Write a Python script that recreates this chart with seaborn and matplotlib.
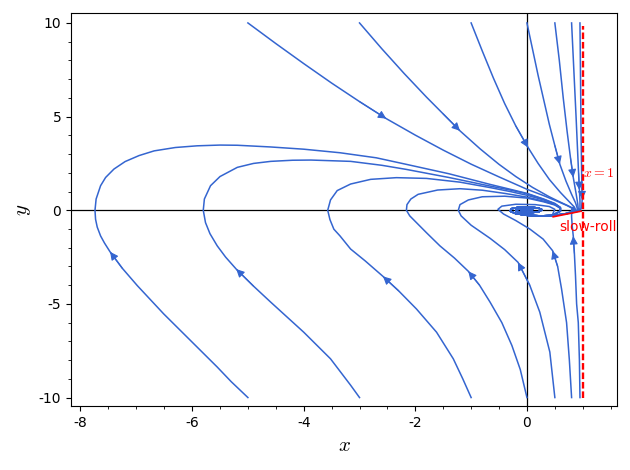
import matplotlib
matplotlib.use("Agg")
import matplotlib.pyplot as plt
import seaborn as sns
import pandas as pd

# trajectories (x, y), in flow order
top_m5 = [(-5.0, 10.0), (-4.5, 8.9), (-4.0, 7.83), (-3.5, 6.79), (-3.0, 5.8), (-2.52, 4.89),
          (-2.0, 4.01), (-1.5, 3.21), (-1.0, 2.46), (-0.5, 1.78), (0.0, 1.12), (0.3, 0.78),
          (0.55, 0.47), (0.72, 0.25), (0.82, 0.09), (0.84, -0.04), (0.75, -0.15), (0.6, -0.23)]
top_m3 = [(-3.0, 10.0), (-2.6, 8.62), (-2.2, 7.3), (-1.8, 6.04), (-1.5, 5.14), (-1.2, 4.24),
          (-0.84, 3.28), (-0.5, 2.45), (-0.2, 1.8), (0.1, 1.22), (0.4, 0.72), (0.6, 0.43), (0.75, 0.22),
          (0.85, 0.07), (0.86, -0.06), (0.72, -0.17), (0.56, -0.24)]
top_m1 = [(-1.0, 10.0), (-0.8, 8.5), (-0.6, 7.05), (-0.4, 5.7), (-0.2, 4.5), (0.02, 3.35), (0.2, 2.5),
          (0.4, 1.65), (0.6, 0.95), (0.75, 0.48), (0.85, 0.17), (0.88, -0.04), (0.78, -0.14),
          (0.62, -0.22)]
top_0 = [(0.0, 10.0), (0.1, 8.6), (0.2, 7.2), (0.3, 5.9), (0.4, 4.6), (0.5, 3.45), (0.59, 2.45),
         (0.7, 1.55), (0.8, 0.85), (0.87, 0.4), (0.9, 0.12), (0.9, -0.05), (0.78, -0.14), (0.62, -0.22)]
top_05 = [(0.5, 10.0), (0.58, 8.0), (0.65, 6.0), (0.72, 4.2), (0.78, 2.8), (0.83, 1.75), (0.88, 0.9),
          (0.91, 0.35), (0.92, 0.05), (0.88, -0.08), (0.75, -0.16), (0.6, -0.23)]
top_08 = [(0.8, 10.0), (0.84, 7.5), (0.88, 5.0), (0.91, 3.0), (0.925, 2.0), (0.94, 1.08), (0.95, 0.5),
          (0.95, 0.1), (0.92, -0.05), (0.78, -0.14), (0.62, -0.22)]
top_095 = [(0.95, 10.0), (0.96, 7.0), (0.97, 4.0), (0.98, 2.0), (0.985, 1.2), (0.99, 0.58), (0.98, 0.15),
           (0.95, -0.03), (0.8, -0.13), (0.62, -0.22)]

bot_m5 = [(-5.0, -10.0), (-5.3, -9.15), (-5.55, -8.37), (-6.03, -6.95), (-6.51, -5.53), (-6.98, -4.03),
          (-7.25, -3.1), (-7.47, -2.22), (-7.57, -1.75), (-7.64, -1.37), (-7.7, -0.9), (-7.73, -0.48),
          (-7.74, 0.0), (-7.72, 0.6), (-7.64, 1.31), (-7.55, 1.75), (-7.4, 2.2), (-7.2, 2.6),
          (-6.95, 2.92), (-6.68, 3.17), (-6.3, 3.35), (-5.91, 3.44), (-5.5, 3.48), (-5.19, 3.47),
          (-4.6, 3.38), (-4.0, 3.26), (-3.35, 3.07), (-2.7, 2.8), (-2.16, 2.45), (-1.4, 1.95),
          (-0.66, 1.38), (-0.3, 1.12), (0.0, 0.9), (0.3, 0.6), (0.5, 0.36), (0.6, 0.15),
          (0.6, -0.05), (0.5, -0.2)]
bot_m3 = [(-3.0, -10.0), (-3.16, -9.34), (-3.52, -7.93), (-4.0, -6.51), (-4.59, -4.91), (-4.9, -4.05),
          (-5.21, -3.14), (-5.4, -2.5), (-5.55, -1.9), (-5.68, -1.25), (-5.76, -0.66), (-5.8, 0.0),
          (-5.78, 0.6), (-5.67, 1.31), (-5.5, 1.8), (-5.19, 2.29), (-4.9, 2.5), (-4.59, 2.61),
          (-4.2, 2.67), (-3.87, 2.68), (-3.16, 2.61), (-2.6, 2.4), (-2.16, 2.18), (-1.4, 1.75),
          (-0.66, 1.29), (-0.3, 1.08), (0.0, 0.88), (0.3, 0.58), (0.5, 0.35), (0.6, 0.14),
          (0.6, -0.05), (0.5, -0.2)]
bot_m1 = [(-1.0, -10.0), (-1.15, -9.0), (-1.32, -7.93), (-1.62, -6.51), (-1.98, -5.27), (-2.3, -4.3),
          (-2.58, -3.53), (-2.9, -2.7), (-3.16, -2.07), (-3.35, -1.37), (-3.46, -1.01), (-3.53, -0.5),
          (-3.57, 0.0), (-3.52, 0.55), (-3.4, 1.05), (-3.16, 1.4), (-2.8, 1.65), (-2.34, 1.74),
          (-1.8, 1.7), (-1.2, 1.5), (-0.66, 1.21), (-0.3, 1.0), (0.0, 0.8), (0.3, 0.55), (0.5, 0.33),
          (0.6, 0.13), (0.6, -0.05), (0.5, -0.2)]
bot_0 = [(0.0, -10.0), (-0.12, -8.5), (-0.27, -7.22), (-0.45, -6.0), (-0.66, -4.91), (-0.85, -4.0),
         (-1.05, -3.26), (-1.3, -2.55), (-1.56, -1.9), (-1.8, -1.2), (-2.0, -0.6), (-2.1, -0.3),
         (-2.16, 0.0), (-2.15, 0.3), (-2.08, 0.6), (-1.95, 0.85), (-1.6, 1.08), (-1.2, 1.15),
         (-0.8, 1.07), (-0.4, 0.9), (0.0, 0.7), (0.3, 0.48), (0.5, 0.3), (0.6, 0.12), (0.6, -0.05),
         (0.5, -0.2)]
bot_05 = [(0.5, -10.0), (0.41, -7.57), (0.23, -5.44), (0.05, -4.0), (-0.16, -2.78), (-0.4, -2.1),
          (-0.66, -1.5), (-1.0, -0.8), (-1.18, -0.3), (-1.23, 0.0), (-1.2, 0.3), (-1.05, 0.55),
          (-0.8, 0.72), (-0.4, 0.75), (0.0, 0.65), (0.3, 0.45), (0.5, 0.28), (0.6, 0.1), (0.58, -0.08),
          (0.48, -0.22)]
bot_08 = [(0.8, -10.0), (0.76, -8.0), (0.71, -6.0), (0.62, -4.2), (0.55, -3.0), (0.46, -2.16),
          (0.29, -1.54), (0.05, -1.0), (-0.2, -0.55), (-0.42, -0.2), (-0.52, 0.05), (-0.45, 0.22),
          (-0.2, 0.32), (0.15, 0.3), (0.4, 0.2), (0.5, 0.05), (0.47, -0.15)]
bot_095 = [(0.95, -10.0), (0.94, -8.0), (0.92, -6.0), (0.89, -5.0), (0.87, -3.5), (0.85, -2.3),
           (0.83, -1.38), (0.81, -0.8), (0.8, -0.35), (0.8, 0.0), (0.82, 0.15), (0.84, 0.12),
           (0.8, -0.05), (0.7, -0.18), (0.55, -0.25)]

# spiral into the focus, shared by every trajectory
tail = [(0.45, -0.28), (0.25, -0.3), (0.0, -0.27), (-0.2, -0.18), (-0.3, -0.05), (-0.28, 0.08),
        (-0.15, 0.16), (0.05, 0.17), (0.2, 0.12), (0.27, 0.03), (0.22, -0.07), (0.08, -0.13),
        (-0.08, -0.12), (-0.2, -0.05), (-0.2, 0.04), (-0.1, 0.09), (0.03, 0.08), (0.1, 0.03),
        (0.07, -0.04), (-0.03, -0.06), (-0.11, -0.02), (-0.08, 0.03), (-0.03, 0.02)]

curves = {"top_m5": top_m5, "top_m3": top_m3, "top_m1": top_m1, "top_0": top_0, "top_05": top_05,
          "top_08": top_08, "top_095": top_095, "bot_m5": bot_m5, "bot_m3": bot_m3, "bot_m1": bot_m1,
          "bot_0": bot_0, "bot_05": bot_05, "bot_08": bot_08, "bot_095": bot_095}
# index of the point carrying the direction arrow
arrow_idx = {"top_m5": 5, "top_m3": 5, "top_m1": 5, "top_0": 6, "top_05": 5, "top_08": 5,
             "top_095": 5, "bot_m5": 7, "bot_m3": 6, "bot_m1": 6, "bot_0": 6, "bot_05": 4,
             "bot_08": 5, "bot_095": 6}

slow_x = [0.47, 0.97]
slow_y = [-0.35, -0.05]
line_x1 = [1.0, 1.0]
line_y1 = [-10.0, 9.85]

rows = []
for name, pts in curves.items():
    for k, (x, y) in enumerate(pts + tail):
        rows.append({"curve": name, "step": k, "x": x, "y": y})
df = pd.DataFrame(rows)

plt.rcParams["axes.unicode_minus"] = False
plt.rcParams["mathtext.fontset"] = "cm"
blue = "#3465d0"

fig = plt.figure(figsize=(6.3, 4.7), dpi=100)
ax = fig.add_axes([0.1127, 0.1362, 0.8667, 0.8361])

ax.axhline(0, color="black", lw=0.9, zorder=1)
ax.axvline(0, color="black", lw=0.9, zorder=1)

sns.lineplot(data=df, x="x", y="y", units="curve", estimator=None, sort=False,
             color=blue, lw=1.1, ax=ax, zorder=2)

for name, pts in curves.items():
    i = arrow_idx[name]
    ax.annotate("", xy=pts[i], xytext=pts[i - 1],
                arrowprops=dict(arrowstyle="-|>", color=blue, lw=0.8,
                                mutation_scale=12, shrinkA=0, shrinkB=0), zorder=3)

sns.lineplot(x=line_x1, y=line_y1, estimator=None, sort=False, color="red", lw=1.7,
             linestyle=(0, (2.8, 1.2)), ax=ax, zorder=4)
sns.lineplot(x=slow_x, y=slow_y, estimator=None, sort=False, color="red", lw=1.2, ax=ax, zorder=4)
ax.text(1.0, 2.0, "$x = 1$", color="red", fontsize=10, va="center", ha="left")
ax.text(1.1, -0.9, "slow-roll", color="red", fontsize=10, va="center", ha="center")

ax.set_xlim(-8.17, 1.614)
ax.set_ylim(-10.45, 10.53)
ax.set_xticks([-8, -6, -4, -2, 0])
ax.set_yticks([-10, -5, 0, 5, 10])
ax.set_xticks([v / 2 for v in range(-16, 4)], minor=True)
ax.set_yticks(list(range(-10, 11)), minor=True)
ax.tick_params(labelsize=10)
ax.set_xlabel("$x$", fontsize=15)
ax.set_ylabel("$y$", fontsize=15)

fig.savefig("out.png", dpi=100)
